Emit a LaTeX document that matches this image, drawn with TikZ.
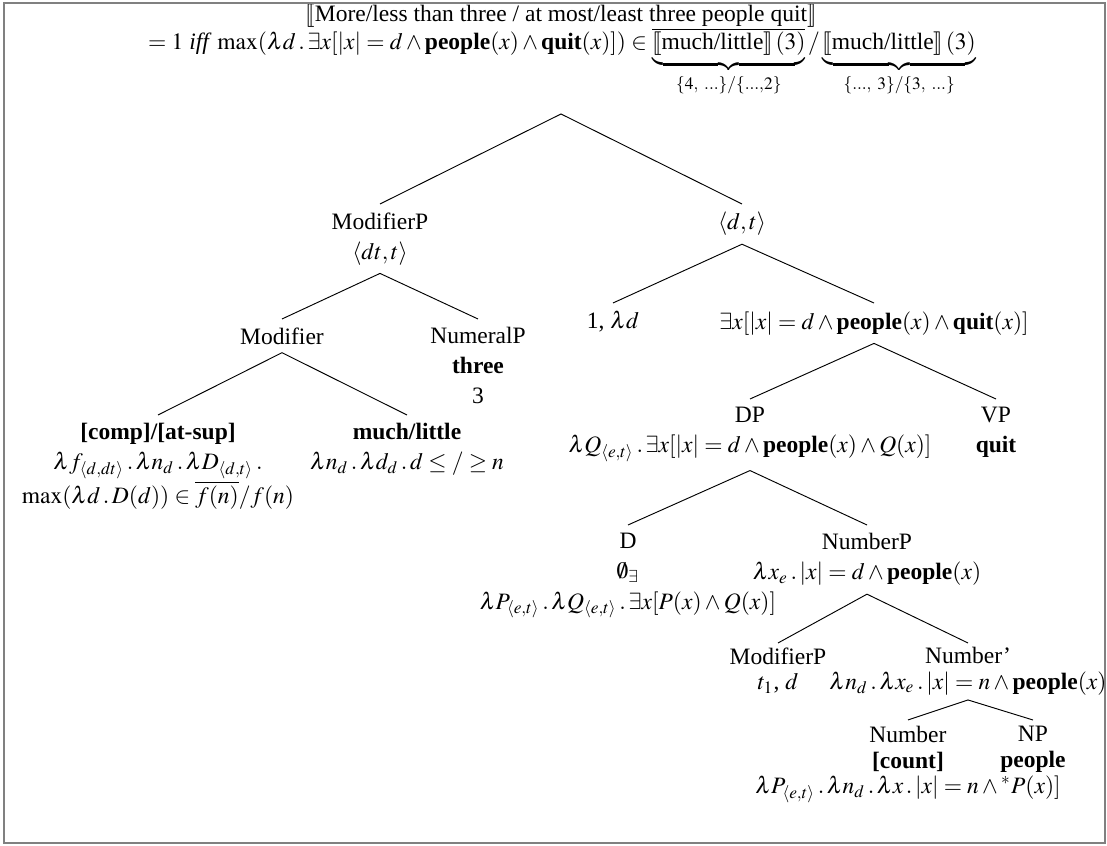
\documentclass[tikz,border=0pt]{standalone}
\usepackage{amsmath}
\usepackage{mathptmx}
\usepackage{stmaryrd}
\usepackage[no-math]{fontspec}
\setmainfont{Liberation Serif}
\begin{document}
\begin{tikzpicture}[x=0.4255pt,y=-0.4255pt,
  tn/.style={align=center,anchor=north,inner xsep=0pt,inner ysep=3.4pt,font=\fontsize{10}{12.8}\selectfont},
  tight/.style={inner ysep=1.8pt,font=\fontsize{10}{10.8}\selectfont},
  edge/.style={line width=0.4pt,black}]
\useasboundingbox (0,0) rectangle (1107,846);
\begin{scope}
\clip (4,3) rectangle (1105,843);
\node[anchor=base,inner sep=0pt] (t1) at (561,22) {$\llbracket$More/less than three / at most/least three people quit$\rrbracket$};
\node[anchor=base,inner sep=0pt] (t2) at (562,50) {$=1$ \textit{iff} $\max(\lambda d\,.\,\exists x[|x|=d\wedge\textbf{people}(x)\wedge\textbf{quit}(x)])\in\underbrace{\overline{\llbracket\text{much/little}\rrbracket\,(3)}}_{\{4,\ ...\}/\{...,2\}}/\underbrace{\llbracket\text{much/little}\rrbracket\,(3)}_{\{...,\ 3\}/\{3,\ ...\}}$};
\coordinate (root) at (561,114);
\node[tn] (mp) at (380,204) {ModifierP\\$\langle dt,t\rangle$};
\node[tn] (dt) at (742,204) {$\langle d,t\rangle$};
\node[tn] (mod) at (282,319) {Modifier};
\node[tn] (num) at (478,319) {NumeralP\\\textbf{three}\\3};
\node[tn] (lam) at (613,303) {1, $\lambda d$};
\node[tn] (ex) at (874,303) {$\exists x[|x|=d\wedge\textbf{people}(x)\wedge\textbf{quit}(x)]$};
\node[tn] (comp) at (158,415) {\textbf{[comp]/[at-sup]}\\$\lambda f_{\langle d,dt\rangle}\,.\,\lambda n_d\,.\,\lambda D_{\langle d,t\rangle}\,.$\\$\max(\lambda d\,.\,D(d))\in\overline{f(n)}/f(n)$};
\node[tn] (much) at (407,415) {\textbf{much/little}\\$\lambda n_d\,.\,\lambda d_d\,.\,d\leq/\geq n$};
\node[tn] (dp) at (750,399) {DP\\$\lambda Q_{\langle e,t\rangle}\,.\,\exists x[|x|=d\wedge\textbf{people}(x)\wedge Q(x)]$};
\node[tn] (vp) at (996,399) {VP\\\textbf{quit}};
\node[tn] (d) at (628,525) {D\\$\emptyset_\exists$\\$\lambda P_{\langle e,t\rangle}\,.\,\lambda Q_{\langle e,t\rangle}\,.\,\exists x[P(x)\wedge Q(x)]$};
\node[tn] (nump) at (867,525) {NumberP\\$\lambda x_e\,.\,|x|=d\wedge\textbf{people}(x)$};
\node[tn,tight] (mp2) at (778,643) {ModifierP\\$t_1$, $d$};
\node[tn,tight] (nbar) at (968,643) {Number'\\$\lambda n_d\,.\,\lambda x_e\,.\,|x|=n\wedge\textbf{people}(x)$};
\node[tn,inner ysep=2.5pt,font=\fontsize{10}{10.8}\selectfont] (number) at (908,720) {Number\\\textbf{[count]}\\$\lambda P_{\langle e,t\rangle}\,.\,\lambda n_d\,.\,\lambda x\,.\,|x|=n\wedge{}^*P(x)]$};
\node[tn,inner ysep=2.5pt,font=\fontsize{10}{10.8}\selectfont] (np) at (1033,720) {NP\\\textbf{people}};
\draw[edge] (mp.north) -- (root) -- (dt.north);
\draw[edge] (mod.north) -- (mp.south) -- (num.north);
\draw[edge] (lam.north) -- (dt.south) -- (ex.north);
\draw[edge] (comp.north) -- (mod.south) -- (much.north);
\draw[edge] (dp.north) -- (ex.south) -- (vp.north);
\draw[edge] (d.north) -- (dp.south) -- (nump.north);
\draw[edge] (mp2.north) -- (nump.south) -- (nbar.north);
\draw[edge] (number.north) -- (nbar.south) -- (np.north);
\end{scope}
\draw[gray,line width=0.6pt] (4,3) rectangle (1105,843);
\end{tikzpicture}
\end{document}
